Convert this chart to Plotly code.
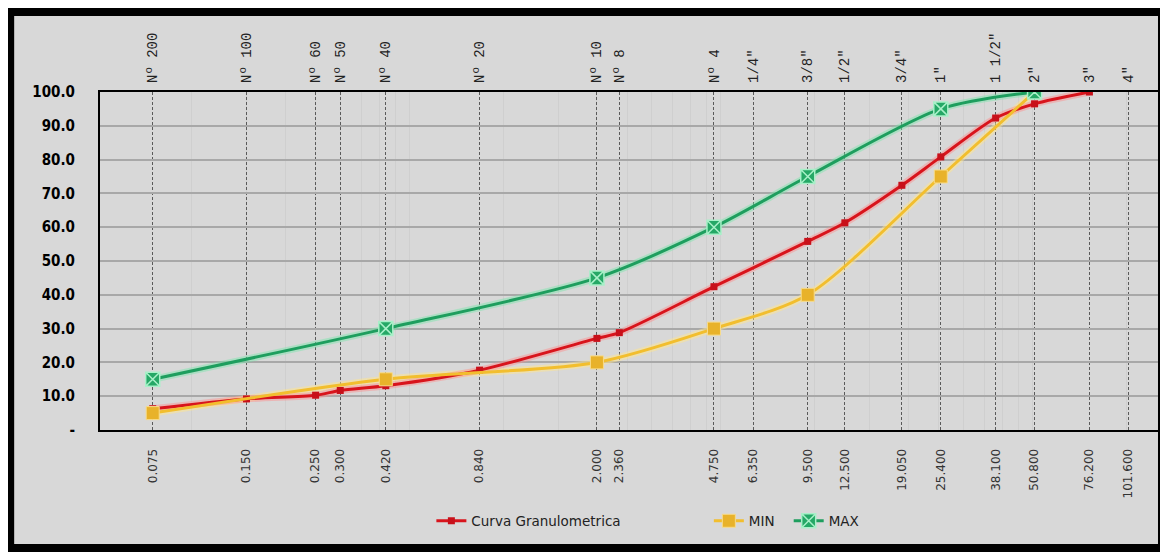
import math
import plotly.graph_objects as go

# ---------------- data ----------------
sizes = [0.075, 0.150, 0.250, 0.300, 0.420, 0.840, 2.000, 2.360, 4.750, 6.350,
         9.500, 12.500, 19.050, 25.400, 38.100, 50.800, 76.200, 101.600]
size_labels = ["0.075", "0.150", "0.250", "0.300", "0.420", "0.840", "2.000", "2.360",
               "4.750", "6.350", "9.500", "12.500", "19.050", "25.400", "38.100",
               "50.800", "76.200", "101.600"]
sieve_names = ["Nº 200", "Nº 100", "Nº 60", "Nº 50", "Nº 40", "Nº 20", "Nº 10", "Nº 8",
               "Nº 4", '1/4"', '3/8"', '1/2"', '3/4"', '1"', '1 1/2"', '2"', '3"', '4"']

curva_x = [0.075, 0.150, 0.250, 0.300, 0.420, 0.840, 2.000, 2.360, 4.750,
           9.500, 12.500, 19.050, 25.400, 38.100, 50.800, 76.200]
curva_y = [6.3, 9.2, 10.3, 11.7, 13.1, 17.7, 27.1, 28.8, 42.4,
           55.8, 61.3, 72.4, 80.8, 92.3, 96.5, 100.0]

limit_x = [0.075, 0.420, 2.000, 4.750, 9.500, 25.400, 50.800]
min_y = [5.0, 15.0, 20.0, 30.0, 40.0, 75.0, 100.0]
max_y = [15.0, 30.0, 45.0, 60.0, 75.0, 95.0, 100.0]

y_ticks = [0, 10, 20, 30, 40, 50, 60, 70, 80, 90, 100]
y_labels = ["-", "10.0", "20.0", "30.0", "40.0", "50.0", "60.0", "70.0", "80.0", "90.0", "100.0"]

# minor grid positions (1, 1.5, ... 5 per decade)
minor_mult = [1, 1.5, 2, 2.5, 3, 3.5, 4, 4.5, 5]
minor_vals = [m * d for d in (0.1, 1, 10, 100) for m in minor_mult]

# ---------------- layout geometry (page pixels; page body has an 8px margin) ----------------
OFF = 8
W, H = 1168 - OFF, 552 - OFF
P_L, P_R, P_T, P_B = 100, 1160, 92, 430          # plot box in page pixels
L, R, T, B = P_L - OFF, 1168 - P_R, P_T - OFF, 552 - P_B
pw, ph = P_R - P_L, P_B - P_T
x_lo, x_hi = 0.0508, 126.5
xr = [math.log10(x_lo), math.log10(x_hi)]

def px(x):
    return (x - P_L) / pw

def py(y):
    return (P_B - y) / ph

RED, YEL, GRN = "#D8141C", "#F2BE2E", "#1E9E5E"

fig = go.Figure()

# glow traces
for xs, ys, c in [(limit_x, max_y, "rgba(120,230,170,0.45)"),
                  (limit_x, min_y, "rgba(255,230,140,0.5)"),
                  (curva_x, curva_y, "rgba(255,140,140,0.45)")]:
    fig.add_trace(go.Scatter(x=xs, y=ys, mode="lines", showlegend=False, hoverinfo="skip",
                             line=dict(color=c, width=7, shape="spline", smoothing=0.8)))

fig.add_trace(go.Scatter(
    x=curva_x, y=curva_y, name="Curva Granulometrica", mode="lines+markers", legend="legend",
    line=dict(color=RED, width=3, shape="spline", smoothing=0.8),
    marker=dict(symbol="square", size=7, color="#C8101A", line=dict(width=0))))
fig.add_trace(go.Scatter(
    x=limit_x, y=min_y, name="MIN", mode="lines+markers", legend="legend2",
    line=dict(color=YEL, width=3, shape="spline", smoothing=0.8),
    marker=dict(symbol="square", size=13, color="#E8B22A", line=dict(color="#F8DC8A", width=1))))
fig.add_trace(go.Scatter(
    x=limit_x, y=max_y, name="MAX", mode="lines+markers", legend="legend3",
    line=dict(color=GRN, width=3, shape="spline", smoothing=0.8),
    marker=dict(symbol="square-x", size=14, color="#25A866", line=dict(color="#A8F0C8", width=1.5))))

# invisible trace for the top axis
fig.add_trace(go.Scatter(x=sizes, y=[None] * len(sizes), xaxis="x2", showlegend=False,
                         hoverinfo="skip", mode="markers"))

# frame (black border 8px, gray fill)
fig.add_shape(type="rect", xref="paper", yref="paper", layer="below",
              x0=px(10), x1=px(1164), y0=py(548), y1=py(12),
              fillcolor="#d8d8d8", line=dict(color="black", width=8))

leg_font = dict(family="DejaVu Sans", size=13.5, color="#222")
def leg(xpix):
    return dict(orientation="h", x=px(xpix), xanchor="left", y=py(521), yanchor="middle",
                font=leg_font, bgcolor="rgba(0,0,0,0)", itemwidth=30)

fig.update_layout(
    width=W, height=H,
    margin=dict(l=L, r=R, t=T, b=B),
    paper_bgcolor="white", plot_bgcolor="white",
    showlegend=True,
    legend=leg(432), legend2=leg(710), legend3=leg(790),
    xaxis=dict(type="log", range=xr, tickmode="array", tickvals=sizes, ticktext=size_labels,
               tickangle=-90, ticks="", ticklabelstandoff=12,
               tickfont=dict(family="DejaVu Sans", size=12, color="#333"),
               showgrid=True, gridcolor="#5a5a5a", griddash="3px,2px", gridwidth=1,
               minor=dict(tickvals=minor_vals, showgrid=True, gridcolor="#cfcfcf", gridwidth=1,
                          griddash="solid", ticks=""),
               showline=True, linecolor="black", linewidth=2, mirror=True, zeroline=False),
    xaxis2=dict(type="log", range=xr, overlaying="x", side="top", anchor="y",
                tickmode="array", tickvals=sizes, ticktext=sieve_names, tickangle=-90,
                ticks="", ticklabelstandoff=8, showgrid=False, zeroline=False,
                tickfont=dict(family="Liberation Mono", size=14, color="#222")),
    yaxis=dict(range=[0, 100], tickmode="array", tickvals=y_ticks, ticktext=y_labels,
               ticks="", ticklabelstandoff=20,
               tickfont=dict(family="DejaVu Sans Condensed, DejaVu Sans", size=15,
                             color="black", weight="bold"),
               showgrid=True, gridcolor="#a8a8a8", gridwidth=2,
               showline=True, linecolor="black", linewidth=2, mirror=True, zeroline=False),
)

fig.write_html("out.html")
